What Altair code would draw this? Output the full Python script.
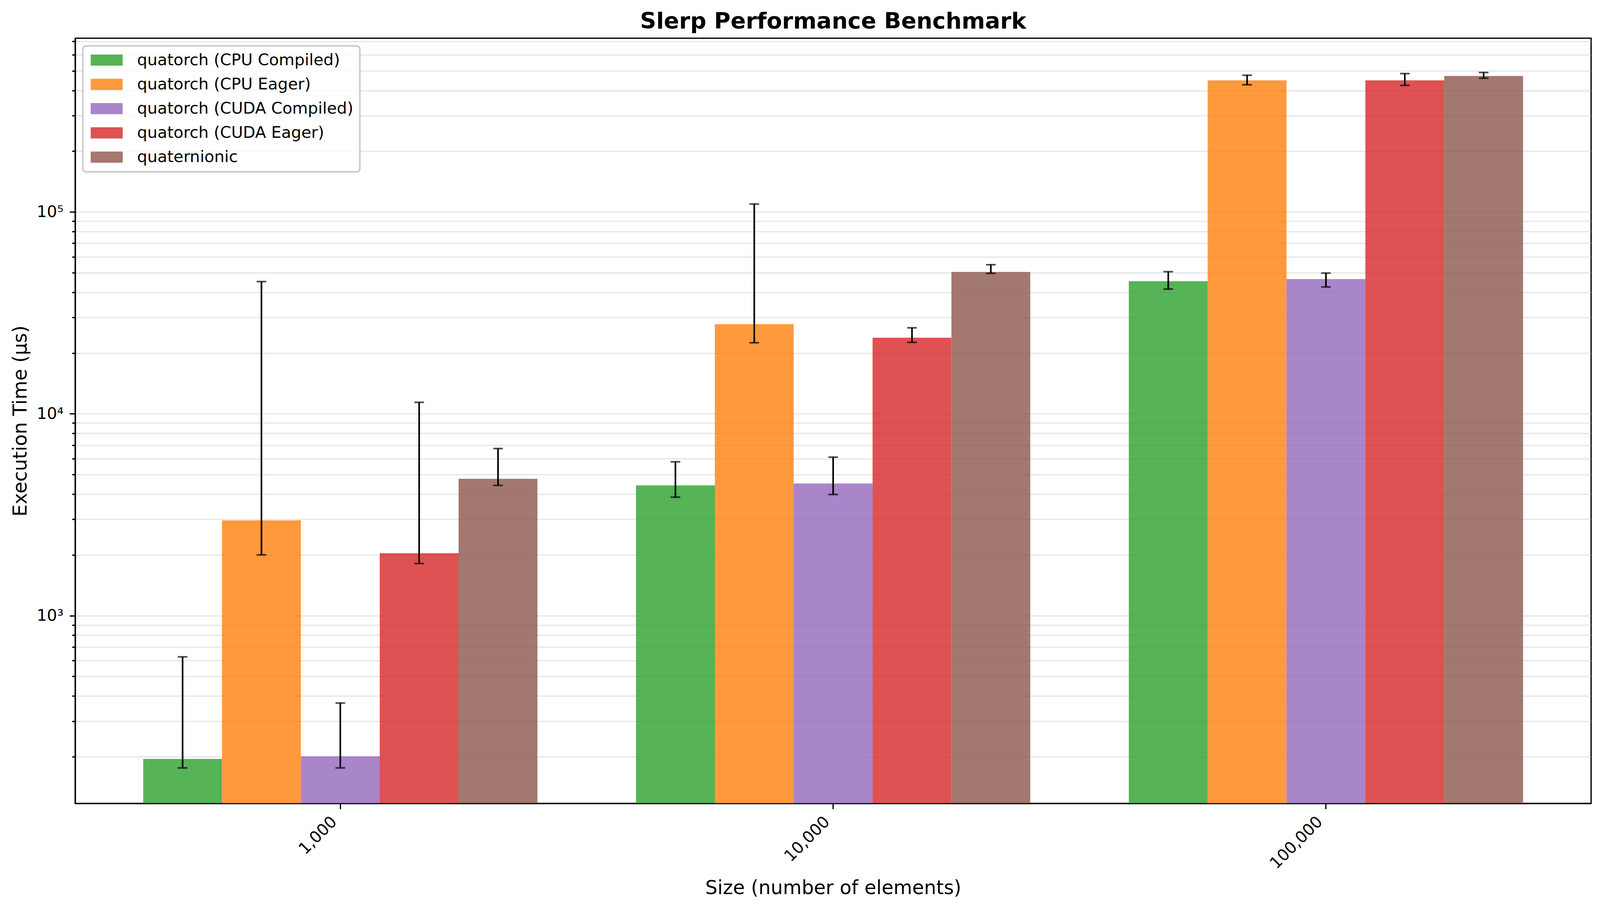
import altair as alt
import pandas as pd

sizes = ["1,000", "10,000", "100,000"]
series = [
    "quatorch (CPU Compiled)",
    "quatorch (CPU Eager)",
    "quatorch (CUDA Compiled)",
    "quatorch (CUDA Eager)",
    "quaternionic",
]
colors = ["#2ca02c", "#ff7f0e", "#9467bd", "#d62728", "#8c564b"]

# mean execution time (µs) per size
mean_cpu_compiled = [195, 4420, 45400]
mean_cpu_eager = [2965, 27800, 449000]
mean_cuda_compiled = [201, 4520, 46500]
mean_cuda_eager = [2037, 23830, 449000]
mean_quaternionic = [4765, 50460, 472000]

# error bar lower ends
low_cpu_compiled = [176, 3864, 41500]
low_cpu_eager = [2000, 22500, 427000]
low_cuda_compiled = [176, 3984, 42500]
low_cuda_eager = [1812, 22600, 424000]
low_quaternionic = [4417, 49650, 460000]

# error bar upper ends
up_cpu_compiled = [625, 5785, 50600]
up_cpu_eager = [45200, 109500, 476000]
up_cuda_compiled = [369, 6100, 49800]
up_cuda_eager = [11400, 26680, 485000]
up_quaternionic = [6730, 54800, 491000]

means = [mean_cpu_compiled, mean_cpu_eager, mean_cuda_compiled, mean_cuda_eager, mean_quaternionic]
lows = [low_cpu_compiled, low_cpu_eager, low_cuda_compiled, low_cuda_eager, low_quaternionic]
ups = [up_cpu_compiled, up_cpu_eager, up_cuda_compiled, up_cuda_eager, up_quaternionic]

y_domain = [117.5, 726000]
y_tick_values = [m * 10 ** e for e in range(2, 6) for m in range(1, 10) if y_domain[0] <= m * 10 ** e <= y_domain[1]]

rows = []
for s, mv, lv, uv in zip(series, means, lows, ups):
    for i, sz in enumerate(sizes):
        rows.append({"size": sz, "series": s, "mean": mv[i], "lower": lv[i], "upper": uv[i],
                     "base": y_domain[0]})
df = pd.DataFrame(rows)

FONT = "DejaVu Sans"
YTITLE = "Execution Time (μs)"
LW = 3.33  # 0.8pt at 300 dpi

xscale = alt.Scale(paddingInner=0.2, paddingOuter=0.138)
yscale = alt.Scale(type="log", domain=y_domain, nice=False)

xaxis = alt.Axis(
    labelAngle=-45, labelAlign="right", labelBaseline="top", tickSize=14.6,
    labelPadding=12, labelOffset=-30, titlePadding=17, grid=False,
)
yaxis = alt.Axis(
    values=y_tick_values,
    labelExpr="datum.value == 1000 ? '10³' : datum.value == 10000 ? '10⁴' : datum.value == 100000 ? '10⁵' : ''",
    tickSize={"condition": {"test": "datum.value == 1000 || datum.value == 10000 || datum.value == 100000", "value": 14.6}, "value": 8.3},
    grid=True, gridColor="#b0b0b0", gridOpacity=0.3, gridWidth=LW,
    labelPadding=16, titlePadding=16, labelOverlap=False,
)

legend = alt.Legend(
    orient="top-left", offset=20, title=None,
    symbolType="M-1,-0.88L4.03,-0.88L4.03,0.88L-1,0.88Z", symbolSize=1089,
    symbolStrokeWidth=0, symbolOpacity=0.8,
    labelFont=FONT, labelFontSize=41.7, labelColor="black", labelOffset=83, labelLimit=1500,
    rowPadding=20, padding=16,
    fillColor="rgba(255,255,255,0.8)", strokeColor="#cccccc", cornerRadius=8,
)

base = alt.Chart(df).encode(
    x=alt.X("size:N", sort=sizes, scale=xscale, axis=xaxis, title="Size (number of elements)"),
    xOffset=alt.XOffset("series:N", sort=series, scale=alt.Scale(paddingInner=0, paddingOuter=0)),
)

bars = base.mark_bar(opacity=0.8).encode(
    y=alt.Y("mean:Q", scale=yscale, axis=yaxis, title=YTITLE),
    y2="base:Q",
    color=alt.Color("series:N", sort=series, scale=alt.Scale(domain=series, range=colors), legend=legend),
)
rules = base.mark_rule(color="black", strokeWidth=4.2).encode(
    y=alt.Y("lower:Q", scale=yscale, title=YTITLE), y2="upper:Q"
)
caps_lo = base.mark_tick(color="black", thickness=4.2, size=25).encode(
    y=alt.Y("lower:Q", scale=yscale, title=YTITLE)
)
caps_hi = base.mark_tick(color="black", thickness=4.2, size=25).encode(
    y=alt.Y("upper:Q", scale=yscale, title=YTITLE)
)

chart = (
    alt.layer(bars, rules, caps_lo, caps_hi)
    .properties(
        width=3935, height=1987,
        title=alt.TitleParams("Slerp Performance Benchmark", font=FONT, fontSize=58.3,
                              fontWeight="bold", color="black", anchor="middle",
                              offset=1, frame="group"),
        autosize=alt.AutoSizeParams(type="none"),
        padding={"left": 187, "top": 75, "right": 15, "bottom": 250},
    )
    .configure_view(stroke="black", strokeWidth=LW)
    .configure_axis(
        labelFont=FONT, labelFontSize=41.7, labelColor="black",
        titleFont=FONT, titleFontSize=50, titleFontWeight="normal", titleColor="black",
        tickColor="black", tickWidth=LW, domainColor="black", domainWidth=LW,
    )
    .configure_legend(strokeWidth=4.2)
)

chart.save("out.html", embed_options={"renderer": "svg", "actions": False})
